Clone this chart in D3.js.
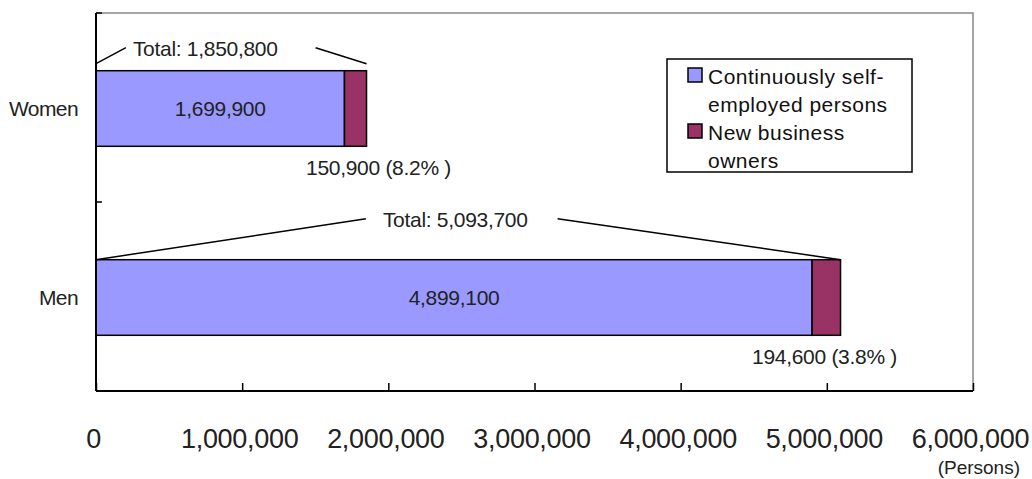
<!DOCTYPE html>
<html><head><meta charset="utf-8">
<script src="https://cdn.jsdelivr.net/npm/d3@7"></script>
<style>
body{margin:0;background:#fff;}
svg{font-family:"Liberation Sans",Arial,sans-serif;}
</style></head>
<body><svg id="c" width="1032" height="479"></svg>
<script>
const categories = ["Women", "Men"];
const continuing = [1699900, 4899100];
const newOwners = [150900, 194600];
const totals = [1850800, 5093700];
const shares = ["8.2%", "3.8%"];
const xTicks = [0, 1000000, 2000000, 3000000, 4000000, 5000000, 6000000];
const seriesNames = [["Continuously self-", "employed persons"], ["New business", "owners"]];
const colors = ["#9999FF", "#993366"];

const svg = d3.select("#c");
const L = 96, R = 973, T = 13, B = 391;
const x = d3.scaleLinear().domain([0, 6000000]).range([L, R]);
const y = d3.scaleBand().domain(categories).range([T, B]).padding(0);
const barH = y.bandwidth() * 0.4;

svg.append("path").attr("d", `M${L},${T}H${R}V${B}`).attr("fill","none").attr("stroke","#888").attr("stroke-width",1.5);

const lbl = (sel) => sel.style("font-size","21px").style("letter-spacing","-0.3px").attr("fill","#222");

categories.forEach((c, i) => {
  const yc = y(c) + y.bandwidth()/2;
  const y0 = yc - barH/2 + 1;
  svg.append("rect").attr("x", x(0)).attr("y", y0).attr("width", x(continuing[i]) - x(0)).attr("height", barH)
    .attr("fill", colors[0]).attr("stroke", "#000").attr("stroke-width", 1.5);
  svg.append("rect").attr("x", x(continuing[i])).attr("y", y0).attr("width", x(totals[i]) - x(continuing[i])).attr("height", barH)
    .attr("fill", colors[1]).attr("stroke", "#000").attr("stroke-width", 1.5);
  svg.append("text").attr("x", (x(0) + x(continuing[i]))/2).attr("y", yc + 8).attr("text-anchor","middle")
    .call(lbl).text(d3.format(",")(continuing[i]));
  const dx = i === 0 ? 12 : -16;
  svg.append("text").attr("x", x(totals[i]) + dx).attr("y", y0 + barH + 29).attr("text-anchor","middle")
    .call(lbl).text(d3.format(",")(newOwners[i]) + " (" + shares[i] + " )");
  const tx = (x(0) + x(totals[i]))/2 - (i === 0 ? 26 : 13);
  const ty = i === 0 ? y0 - 15 : y0 - 33;
  const t = svg.append("text").attr("x", tx).attr("y", ty).attr("text-anchor","middle")
    .call(lbl).text("Total: " + d3.format(",")(totals[i]));
  const bb = t.node().getBBox();
  const ly = ty - 8;
  const endY = i === 0 ? y0 - 7 : y0;
  svg.append("line").attr("x1", x(0)).attr("y1", endY).attr("x2", bb.x - (i === 0 ? 7 : 17)).attr("y2", ly)
    .attr("stroke","#000").attr("stroke-width",1.5);
  svg.append("line").attr("x1", bb.x + bb.width + (i === 0 ? 38 : 30)).attr("y1", ly).attr("x2", x(totals[i])).attr("y2", endY)
    .attr("stroke","#000").attr("stroke-width",1.5);
  svg.append("text").attr("x", 78).attr("y", yc + 8).attr("text-anchor","end")
    .style("font-size","21px").style("letter-spacing","-0.6px").attr("fill","#222").text(c);
});

const yAxis = svg.append("g");
yAxis.append("line").attr("x1", L).attr("x2", L).attr("y1", T).attr("y2", B).attr("stroke","#000").attr("stroke-width",2);
[T, y(categories[1]), B].forEach(v => yAxis.append("line").attr("x1", L).attr("x2", L + 6).attr("y1", v).attr("y2", v).attr("stroke","#000").attr("stroke-width",1.5));

const xAxis = svg.append("g").attr("transform", `translate(0,${B})`)
  .call(d3.axisBottom(x).tickValues(xTicks).tickSize(-8).tickPadding(0).tickFormat(d3.format(",")));
xAxis.attr("font-size", null).attr("font-family", null);
xAxis.select(".domain").attr("stroke","#000").attr("stroke-width",2).attr("d", `M${L},0H${R}`);
xAxis.selectAll(".tick line").attr("stroke","#000").attr("stroke-width",1.5);
xAxis.selectAll(".tick text").style("font-size", "27px").style("letter-spacing","-0.3px").attr("fill","#222")
  .attr("y", 0).attr("dy", "57").attr("dx", -3);
svg.append("text").attr("x", 1020).attr("y", 474).attr("text-anchor","end").style("font-size", "19px").attr("fill","#222").text("(Persons)");

const lg = svg.append("g");
lg.append("rect").attr("x", 667).attr("y", 59).attr("width", 245).attr("height", 113).attr("fill","#fff").attr("stroke","#000").attr("stroke-width",1.5);
const baselines = [[84, 112], [140, 168]];
seriesNames.forEach((lines, i) => {
  lg.append("rect").attr("x", 688).attr("y", baselines[i][0] - 16).attr("width", 14).attr("height", 14)
    .attr("fill", colors[i]).attr("stroke","#000").attr("stroke-width",1.5);
  lines.forEach((s, j) => lg.append("text").attr("x", 708).attr("y", baselines[i][j]).style("font-size", "21px")
    .style("letter-spacing","0.5px").attr("fill","#111").text(s));
});
</script></body></html>
